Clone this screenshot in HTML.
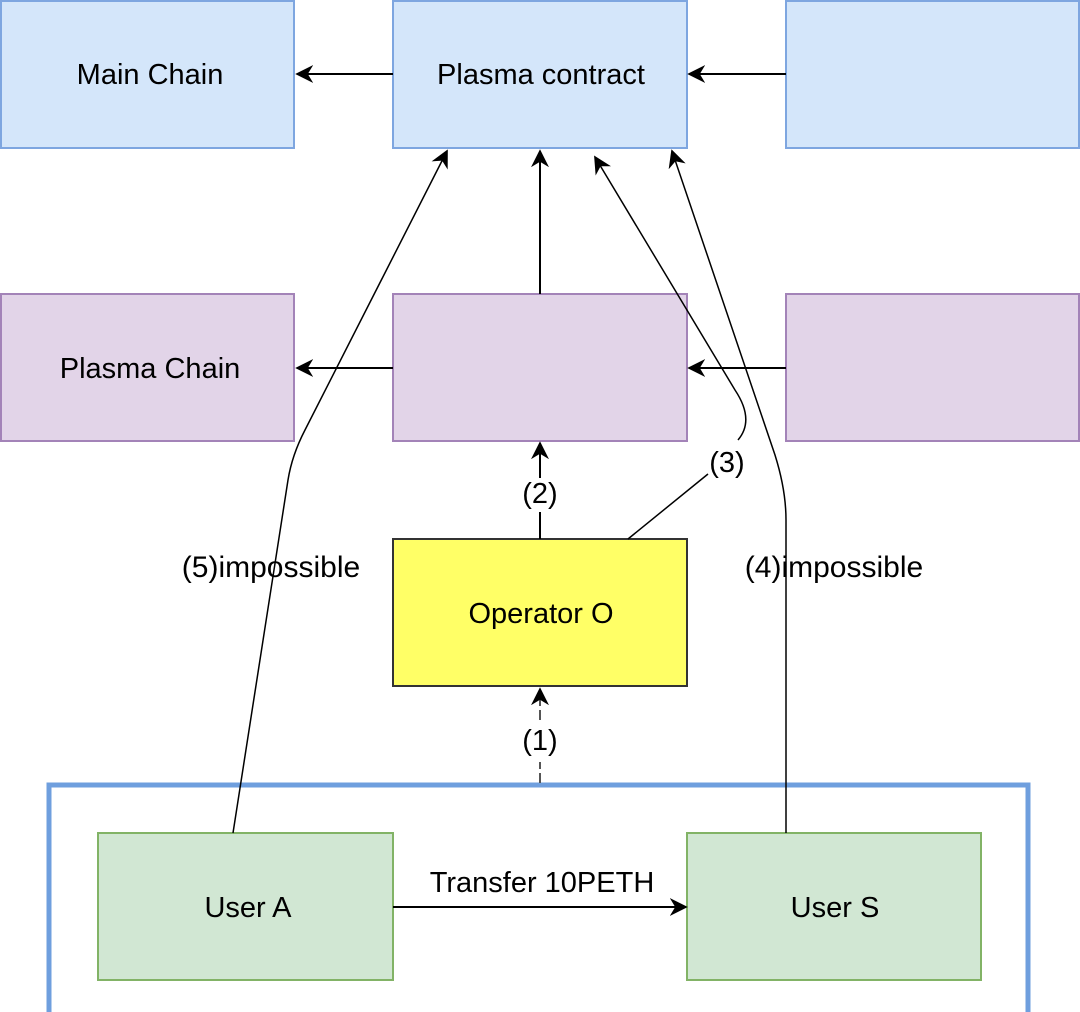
<!DOCTYPE html>
<html><head><style>body{margin:0;background:#fff}svg{display:block}text{font-family:"Liberation Sans",sans-serif;font-size:29px;fill:#000}</style></head>
<body>
<svg width="1080" height="1012" viewBox="0 0 1080 1012">
<defs>
<marker id="b" viewBox="0 0 10 10" refX="9" refY="5" markerWidth="18" markerHeight="18" markerUnits="userSpaceOnUse" orient="auto"><path d="M0,0 L10,5 L0,10 L3,5z" fill="#000"/></marker></defs>
<g stroke-width="2">
<rect x="1" y="1" width="293" height="147" fill="#d4e6fa" stroke="#7ea6e0"/>
<rect x="393" y="1" width="294" height="147" fill="#d4e6fa" stroke="#7ea6e0"/>
<rect x="786" y="1" width="293" height="147" fill="#d4e6fa" stroke="#7ea6e0"/>
<rect x="1" y="294" width="293" height="147" fill="#e2d4e8" stroke="#a383b8"/>
<rect x="393" y="294" width="294" height="147" fill="#e2d4e8" stroke="#a383b8"/>
<rect x="786" y="294" width="293" height="147" fill="#e2d4e8" stroke="#a383b8"/>
<rect x="393" y="539" width="294" height="147" fill="#ffff66" stroke="#333"/>
</g>
<path d="M49,1012 V785 H1028 V1012" fill="none" stroke="#6f9fde" stroke-width="5"/>
<rect x="98" y="833" width="295" height="147" fill="#d1e7d3" stroke="#82b366" stroke-width="2"/>
<rect x="687" y="833" width="294" height="147" fill="#d1e7d3" stroke="#82b366" stroke-width="2"/>
<g fill="none" stroke="#000" stroke-width="2">
<path d="M393,74 H297" marker-end="url(#b)"/>
<path d="M786,74 H689" marker-end="url(#b)"/>
<path d="M393,368 H297" marker-end="url(#b)"/>
<path d="M786,368 H689" marker-end="url(#b)"/>
<path d="M540,294 V151" marker-end="url(#b)"/>
<path d="M540,539 V512 M540,478 V443" marker-end="url(#b)"/>
<path d="M540,783 V762 M540,720 V689" stroke="#555" stroke-dasharray="10,4" marker-end="url(#b)"/>
<path d="M393,907 H686" marker-end="url(#b)"/>
<path d="M233,833 L288,480 Q292,455 305,430 L447,151" stroke-width="1.5" marker-end="url(#b)"/>
<path d="M786,833 V520 Q786,490 775,455 L672,151" stroke-width="1.5" marker-end="url(#b)"/>
<path d="M628,539 L708,474 M738,440 Q755,420 735,390 L595,157" stroke-width="1.5" marker-end="url(#b)"/>
</g>
<g text-anchor="middle">
<text x="150" y="84">Main Chain</text>
<text x="541" y="84">Plasma contract</text>
<text x="150" y="378">Plasma Chain</text>
<text x="541" y="623">Operator O</text>
<text x="248" y="917">User A</text>
<text x="835" y="917">User S</text>
<text x="542" y="892">Transfer 10PETH</text>
<text x="540" y="503">(2)</text>
<text x="540" y="750">(1)</text>
<text x="727" y="472">(3)</text>
<text x="271" y="577" style="font-size:30px">(5)impossible</text>
<text x="834" y="577" style="font-size:30px">(4)impossible</text>
</g>
</svg>
</body></html>
